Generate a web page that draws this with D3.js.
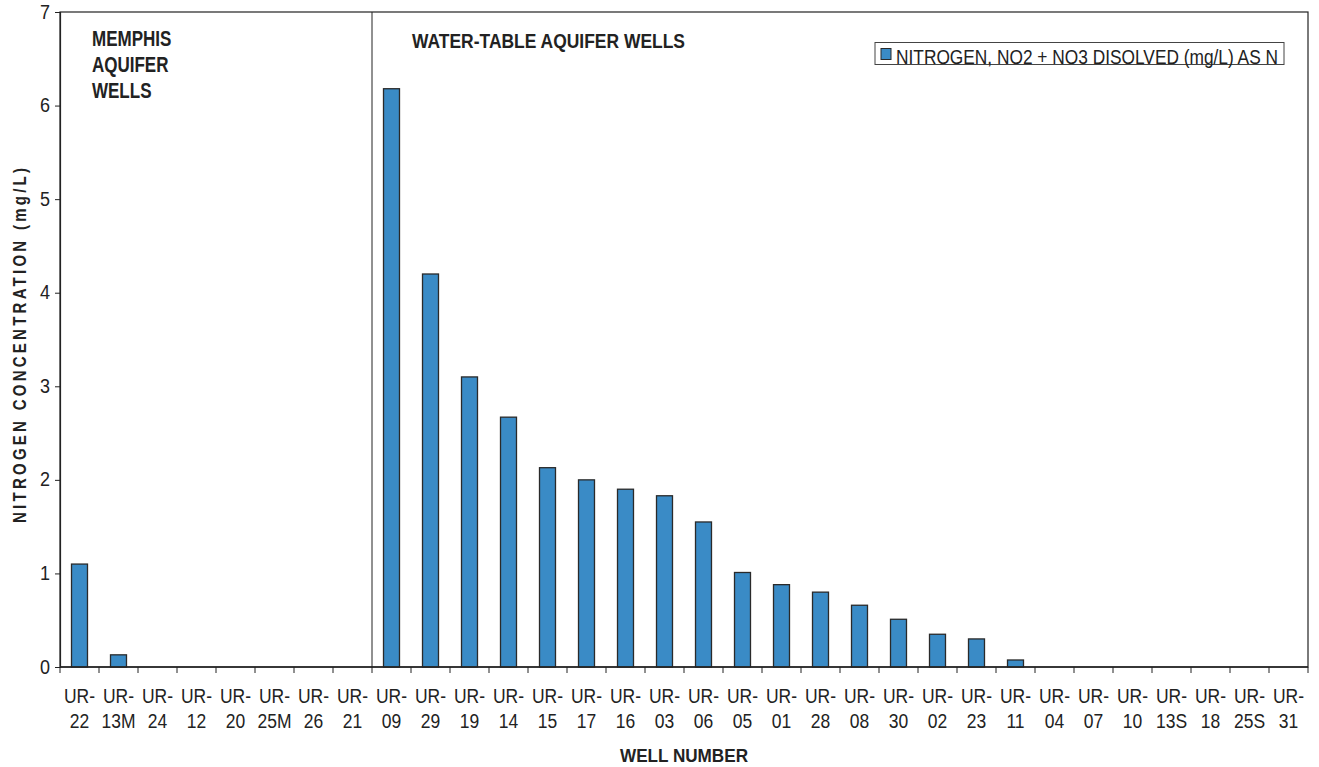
<!DOCTYPE html>
<html>
<head>
<meta charset="utf-8">
<script src="https://cdn.jsdelivr.net/npm/d3@7"></script>
<style>
  html, body { margin: 0; padding: 0; background: #fff; }
  svg { display: block; }
  text { font-family: "Liberation Sans", Arial, sans-serif; fill: #222; }
</style>
</head>
<body>
<svg id="chart" width="1319" height="767"></svg>
<script>
const wells = ["UR-22","UR-13M","UR-24","UR-12","UR-20","UR-25M","UR-26","UR-21",
  "UR-09","UR-29","UR-19","UR-14","UR-15","UR-17","UR-16","UR-03","UR-06","UR-05",
  "UR-01","UR-28","UR-08","UR-30","UR-02","UR-23","UR-11","UR-04","UR-07","UR-10",
  "UR-13S","UR-18","UR-25S","UR-31"];
const nitrogen = [1.10, 0.13, 0, 0, 0, 0, 0, 0,
  6.18, 4.20, 3.10, 2.67, 2.13, 2.00, 1.90, 1.83, 1.55, 1.01,
  0.88, 0.80, 0.66, 0.51, 0.35, 0.30, 0.075, 0, 0, 0,
  0, 0, 0, 0];
const yTicks = [0, 1, 2, 3, 4, 5, 6, 7];
const groupDividerAfter = "UR-21";
const seriesName = "NITROGEN, NO2 + NO3 DISOLVED (mg/L) AS N";
const yTitle = "NITROGEN CONCENTRATION (mg/L)";
const xTitle = "WELL NUMBER";
const memphisLabel = ["MEMPHIS", "AQUIFER", "WELLS"];
const waterTableLabel = "WATER-TABLE AQUIFER WELLS";

const svg = d3.select("#chart");
const m = { left: 60, top: 12, right: 1308, bottom: 667 };

const x = d3.scaleBand().domain(wells).range([m.left, m.right]).paddingInner(0).paddingOuter(0);
const y = d3.scaleLinear().domain([0, 7]).range([m.bottom, m.top]);
const barW = x.bandwidth() * 0.41;

// plot box
svg.append("rect")
  .attr("x", m.left).attr("y", m.top)
  .attr("width", m.right - m.left).attr("height", m.bottom - m.top)
  .attr("fill", "none").attr("stroke", "#222").attr("stroke-width", 1.2);

// divider
const divX = x(groupDividerAfter) + x.bandwidth();
svg.append("line")
  .attr("x1", divX).attr("x2", divX).attr("y1", m.top).attr("y2", m.bottom)
  .attr("stroke", "#222").attr("stroke-width", 1);

// bars
svg.append("g").selectAll("rect")
  .data(wells.map((w, i) => ({ w, v: nitrogen[i] })).filter(d => d.v > 0))
  .join("rect")
  .attr("x", d => x(d.w) + (x.bandwidth() - barW) / 2)
  .attr("y", d => y(d.v))
  .attr("width", barW)
  .attr("height", d => y(0) - y(d.v))
  .attr("fill", "#3a8bc6")
  .attr("stroke", "#2a2a2a")
  .attr("stroke-width", 1.3);

// y axis
const yAxis = d3.axisLeft(y).tickValues(yTicks).tickFormat(d3.format("d")).tickSize(5).tickPadding(5);
const gy = svg.append("g").attr("transform", `translate(${m.left},0)`).call(yAxis);
gy.select(".domain").attr("stroke", "#222").attr("stroke-width", 1.2);
gy.selectAll(".tick line").attr("stroke", "#222");
gy.selectAll(".tick text")
  .attr("font-size", 18)
  .attr("fill", "#222")
  .attr("dy", null)
  .attr("y", null)
  .attr("transform", "translate(0,6) scale(1,1.1)");

// x axis (boundary ticks)
const boundaries = wells.map(w => x(w)).concat([m.right]);
svg.append("g").selectAll("line")
  .data(boundaries)
  .join("line")
  .attr("x1", d => d).attr("x2", d => d)
  .attr("y1", m.bottom).attr("y2", m.bottom + 6)
  .attr("stroke", "#222").attr("stroke-width", 1);
svg.append("line")
  .attr("x1", m.left).attr("x2", m.right).attr("y1", m.bottom).attr("y2", m.bottom)
  .attr("stroke", "#222").attr("stroke-width", 1.6);

// x labels
const xl = svg.append("g").selectAll("g")
  .data(wells)
  .join("g")
  .attr("transform", d => `translate(${x(d) + x.bandwidth() / 2},0)`);
xl.append("text")
  .attr("text-anchor", "middle")
  .attr("font-size", 17.5)
  .attr("transform", "translate(0,703) scale(1,1.12)")
  .text(d => d.split("-")[0] + "-");
xl.append("text")
  .attr("text-anchor", "middle")
  .attr("font-size", 17.5)
  .attr("transform", "translate(0,728) scale(1,1.12)")
  .text(d => d.split("-")[1]);

// axis titles
svg.append("text")
  .attr("transform", "translate(26,345.5) rotate(-90) scale(1,1.2)")
  .attr("text-anchor", "middle")
  .attr("font-size", 15)
  .attr("font-weight", "bold")
  .attr("textLength", 355)
  .attr("lengthAdjust", "spacing")
  .text(yTitle);

svg.append("text")
  .attr("transform", "translate(620,762) scale(1,1.15)")
  .attr("font-size", 16)
  .attr("font-weight", "bold")
  .attr("textLength", 128)
  .attr("lengthAdjust", "spacingAndGlyphs")
  .text(xTitle);

// group annotations
svg.append("g").selectAll("text")
  .data(memphisLabel)
  .join("text")
  .attr("transform", (d, i) => `translate(92,${46 + i * 26}) scale(1,1.25)`)
  .attr("font-size", 17)
  .attr("font-weight", "bold")
  .text(d => d);

svg.append("text")
  .attr("transform", "translate(412,48) scale(1,1.2)")
  .attr("font-size", 17)
  .attr("font-weight", "bold")
  .attr("textLength", 273)
  .attr("lengthAdjust", "spacingAndGlyphs")
  .text(waterTableLabel);

// legend
const lg = svg.append("g");
lg.append("rect")
  .attr("x", 875).attr("y", 42.5).attr("width", 409).attr("height", 22)
  .attr("fill", "#fff").attr("stroke", "#444").attr("stroke-width", 1);
lg.append("rect")
  .attr("x", 881).attr("y", 48.5).attr("width", 10).attr("height", 11)
  .attr("fill", "#3a8bc6").attr("stroke", "#2a2a2a").attr("stroke-width", 1);
lg.append("text")
  .attr("transform", "translate(896,63.5) scale(1,1.18)")
  .attr("font-size", 17)
  .attr("textLength", 382)
  .attr("lengthAdjust", "spacingAndGlyphs")
  .text(seriesName);
</script>
</body>
</html>
